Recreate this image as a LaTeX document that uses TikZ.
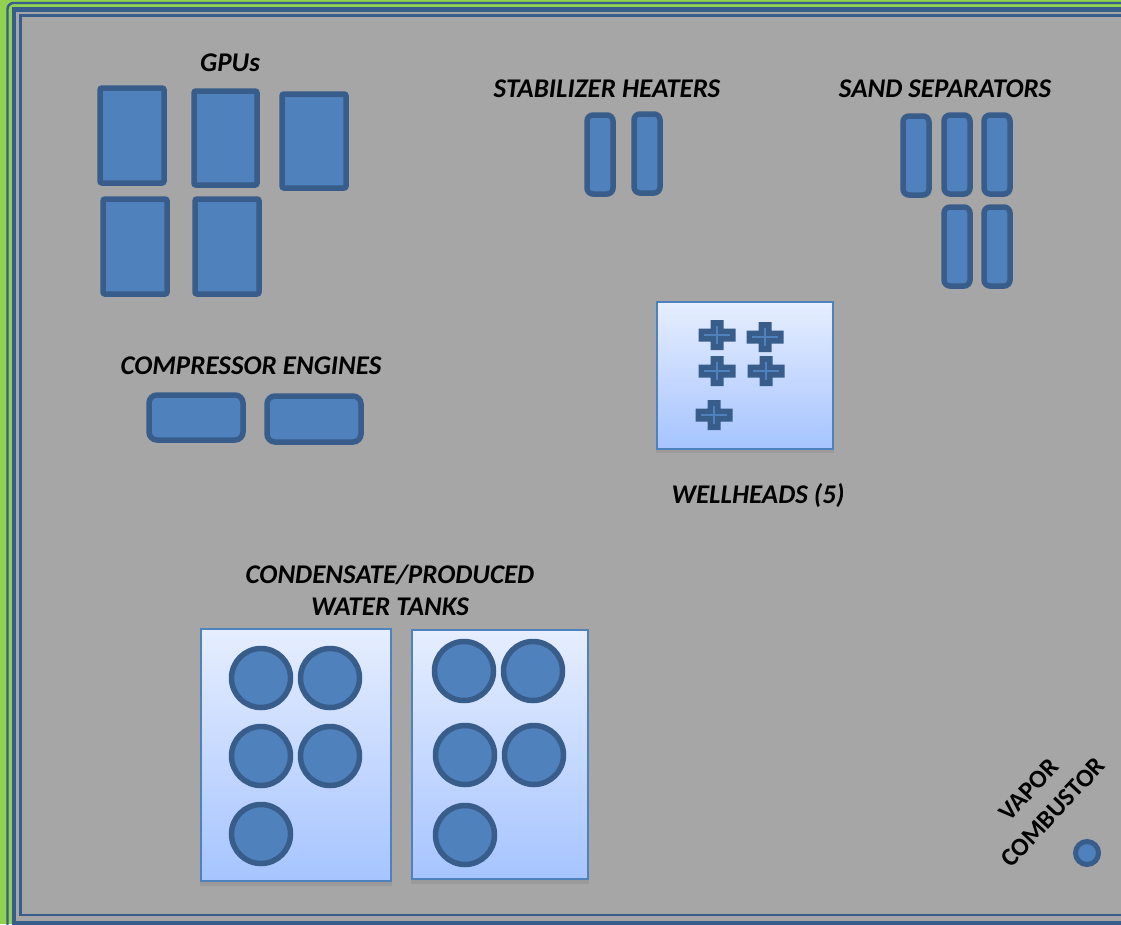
\documentclass[tikz,border=0pt]{standalone}
\usepackage{fontspec}
\setmainfont{Carlito}
\usetikzlibrary{shadows}
\definecolor{sitegreen}{HTML}{92D050}
\definecolor{sitegray}{HTML}{A6A6A6}
\definecolor{unitfill}{HTML}{4F81BD}
\definecolor{unitline}{HTML}{385D8A}
\definecolor{paneltop}{HTML}{E6EEFF}
\definecolor{panelbottom}{HTML}{A6C4FF}
\tikzset{
  unit/.style={draw=unitline, fill=unitfill, line width=5.5pt, rounded corners=2pt},
  vessel/.style={unit, rounded corners=6pt},
  tank/.style={draw=unitline, fill=unitfill, line width=5.5pt, circle, minimum size=59pt, inner sep=0pt},
  panel/.style={draw=unitfill, line width=2.2pt, top color=paneltop, bottom color=panelbottom, drop shadow={shadow xshift=0pt, shadow yshift=-3pt, shadow scale=1.015, opacity=0.3}},
  tag/.style={font=\fontsize{27}{32}\selectfont\bfseries\itshape, align=center, inner sep=0pt},
  wellplus/.pic={
    \fill[unitline] (-18.5,-6.5) -- (-6.5,-6.5) -- (-6.5,-15) -- (6.5,-15) -- (6.5,-6.5) -- (18.5,-6.5)
      -- (18.5,6.5) -- (6.5,6.5) -- (6.5,15) -- (-6.5,15) -- (-6.5,6.5) -- (-18.5,6.5) -- cycle;
    \draw[unitfill, line width=1.6pt] (-13,0) -- (13,0) (0,-9) -- (0,9);
  }
}

\begin{document}
\begin{tikzpicture}[x=1pt, y=-1pt]
  \useasboundingbox (0,0) rectangle (1121,924);
  % Site boundary
  \fill[sitegreen] (0,0) rectangle (1121,924);
  \draw[unitline, line width=2.4pt, rounded corners=6pt] (7.5,940) -- (7.5,3) -- (1140,3);
  \fill[unitline] (12,7) rectangle (1140,940);
  \fill[sitegray] (16,12) rectangle (1140,921);
  \draw[unitline, line width=2.4pt] (20.5,15.5) rectangle (1140,915);

  % GPUs
  \node[tag] (gpulabel) at (230,63) {GPUs};
  \foreach \xa/\ya/\xb/\yb in {100/88/164/183, 194/91/257/185, 282/94/346/188, 103/199/167/294, 195/199/259/294}
    \draw[unit] (\xa,\ya) rectangle (\xb,\yb);

  % Stabilizer heaters
  \node[tag] (heaterlabel) at (607,89) {STABILIZER HEATERS};
  \foreach \xa/\ya in {587/115, 634/114}
    \draw[vessel] (\xa,\ya) rectangle ++(26,79);

  % Sand separators
  \node[tag] (sandlabel) at (945,89) {SAND SEPARATORS};
  \foreach \xa/\ya in {903/116, 944/115, 984/115, 944/207, 984/207}
    \draw[vessel] (\xa,\ya) rectangle ++(26,79);

  % Compressor engines
  \node[tag] (complabel) at (251,366) {COMPRESSOR ENGINES};
  \draw[vessel, rounded corners=8pt] (149,395) rectangle (243,440);
  \draw[vessel, rounded corners=8pt] (267,396) rectangle (361,442);

  % Wellheads
  \path[panel] (657,302) rectangle (833,449);
  \foreach \xa/\ya in {717/335, 765/337, 717/371, 766/371, 714/415}
    \pic at (\xa,\ya) {wellplus};
  \node[tag] (welllabel) at (758,496) {WELLHEADS (5)};

  % Tanks
  \node[tag] (tanklabel) at (390,590) {CONDENSATE/PRODUCED\\WATER TANKS};
  \path[panel] (201,629) rectangle (391,881);
  \path[panel] (412,630) rectangle (588,879);
  \foreach \xa/\ya [count=\i] in {261/678, 330/678, 261/756, 330/756, 261/834, 464/671, 533/671, 465/755, 534/755, 465/835}
    \node[tank] (tank\i) at (\xa,\ya) {};

  % Vapor combustor
  \node[tag, font=\fontsize{25.5}{33}\selectfont\bfseries, rotate=47] (vaporlabel) at (1041,801) {VAPOR\\COMBUSTOR};
  \node[draw=unitline, fill=unitfill, line width=5pt, circle, minimum size=23pt, inner sep=0pt] (vapor) at (1087,853) {};
\end{tikzpicture}
\end{document}
